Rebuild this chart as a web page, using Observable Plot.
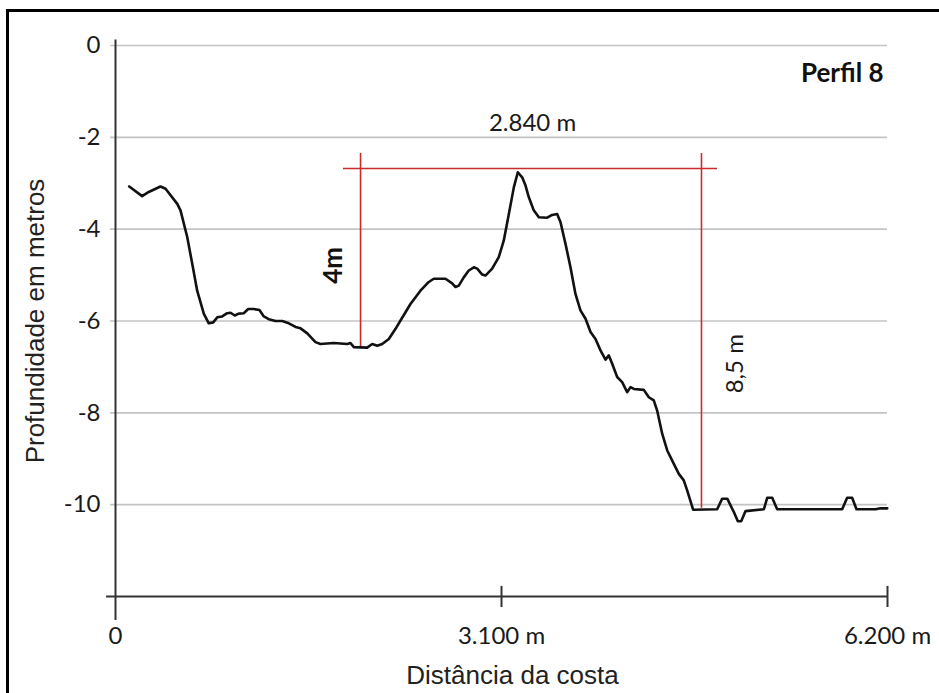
<!DOCTYPE html>
<html>
<head>
<meta charset="utf-8">
<script src="https://cdn.jsdelivr.net/npm/d3@7"></script>
<script src="https://cdn.jsdelivr.net/npm/@observablehq/plot@0.6"></script>
<style>
  html, body { margin: 0; padding: 0; background: #fff; }
  #wrap { position: relative; width: 939px; height: 693px; overflow: hidden; background: #fff; }
  #wrap svg { position: absolute; left: 0; top: 0; }
  #frame { position: absolute; left: 6px; top: 9px; width: 960px; height: 720px;
           border-left: 3px solid #000; border-top: 3px solid #000; pointer-events: none; }
</style>
</head>
<body>
<div id="wrap"><div id="frame"></div></div>
<script>
// Profile 8: distance from coast (m) and depth (m)
const distance = [110, 214, 267, 361, 402, 496, 522, 576, 616, 656,
  709, 749, 785, 817, 857, 897, 924, 958, 990, 1030,
  1066, 1111, 1156, 1191, 1231, 1285, 1339, 1392, 1446, 1486,
  1540, 1606, 1646, 1753, 1861, 1887, 1914, 2021, 2062, 2102,
  2142, 2195, 2249, 2289, 2369, 2449, 2516, 2556, 2650, 2704,
  2731, 2757, 2797, 2837, 2878, 2905, 2945, 2971, 3025, 3078,
  3118, 3159, 3199, 3231, 3266, 3293, 3319, 3359, 3400, 3467,
  3507, 3547, 3574, 3614, 3654, 3694, 3734, 3775, 3815, 3855,
  3895, 3935, 3962, 3989, 4029, 4069, 4109, 4136, 4163, 4243,
  4283, 4323, 4350, 4391, 4431, 4484, 4524, 4564, 4591, 4639,
  4832, 4872, 4913, 4966, 4998, 5025, 5060, 5207, 5234, 5274,
  5314, 5836, 5876, 5916, 5951, 6104, 6144, 6198];
const depth = [-3.07, -3.28, -3.19, -3.07, -3.12, -3.45, -3.59, -4.17, -4.75, -5.34,
  -5.84, -6.05, -6.03, -5.92, -5.90, -5.83, -5.82, -5.88, -5.84, -5.83,
  -5.74, -5.74, -5.76, -5.90, -5.96, -6.00, -6.00, -6.05, -6.13, -6.16,
  -6.27, -6.46, -6.50, -6.48, -6.50, -6.48, -6.57, -6.58, -6.50, -6.54,
  -6.50, -6.39, -6.17, -5.99, -5.63, -5.34, -5.15, -5.08, -5.08, -5.18,
  -5.26, -5.23, -5.05, -4.90, -4.83, -4.86, -4.99, -5.01, -4.86, -4.61,
  -4.25, -3.67, -3.09, -2.76, -2.87, -3.05, -3.30, -3.59, -3.74, -3.75,
  -3.69, -3.67, -3.85, -4.32, -4.83, -5.41, -5.77, -5.95, -6.24, -6.39,
  -6.64, -6.84, -6.75, -6.93, -7.22, -7.33, -7.55, -7.44, -7.48, -7.50,
  -7.66, -7.73, -7.95, -8.46, -8.82, -9.11, -9.33, -9.47, -9.69, -10.11,
  -10.10, -9.87, -9.87, -10.16, -10.36, -10.36, -10.14, -10.10, -9.85, -9.85,
  -10.10, -10.10, -9.85, -9.85, -10.10, -10.10, -10.08, -10.08];

// Axis ticks
const yTicks = [0, -2, -4, -6, -8, -10];
const xTicks = [0, 3100, 6200];
const xTickLabels = ["0", "3.100 m", "6.200 m"];

// Red measurement annotations
const spanX = [1831, 4835];     // horizontal red line extent
const spanDepth = -2.68;        // horizontal red line depth
const markerX = [1968, 4706];   // vertical red lines
const markerTop = -2.35;
const markerBottom = [-6.58, -10.08];

const widthLabel = "2.840 m";
const widthLabelPos = [3349, -1.70];
const riseLabel = "4m";
const riseLabelPos = [1751, -4.79];
const dropLabel = "8,5 m";
const dropLabelPos = [4979, -6.93];

const title = "Perfil 8";
const titlePos = [6168, -0.61];

const profile = distance.map((d, i) => ({distance: d, depth: depth[i]}));
const markers = markerX.map((x, i) => ({x, y1: markerTop, y2: markerBottom[i]}));
const xLabelMap = new Map(xTicks.map((d, i) => [d, xTickLabels[i]]));

const red = "#cc2b2b";
const axisColor = "#333";

const chart = Plot.plot({
  width: 939,
  height: 693,
  marginLeft: 115,
  marginRight: 52,
  marginTop: 45,
  marginBottom: 97,
  x: {domain: [0, 6200]},
  y: {domain: [-12, 0]},
  style: {background: "transparent", fontFamily: "Lato", color: "#1a1a1a"},
  marks: [
    Plot.ruleY(yTicks, {x1: -40, x2: 6200, stroke: "#c4c4c4", strokeWidth: 1.6}),
    Plot.ruleX([0], {y1: 0.12, y2: -12.52, stroke: axisColor, strokeWidth: 2}),
    Plot.ruleY([-12], {x1: -72, x2: 6200, stroke: axisColor, strokeWidth: 2}),
    Plot.ruleX(xTicks.slice(1), {y1: -11.78, y2: -12.24, stroke: axisColor, strokeWidth: 2}),
    Plot.axisY({ticks: yTicks, tickSize: 0, tickPadding: 15, tickFormat: d => String(d),
      fontSize: 24, fontFamily: "Lato", label: null}),
    Plot.axisX({ticks: xTicks, tickSize: 0, tickPadding: 30, tickFormat: d => xLabelMap.get(d),
      fontSize: 24, fontFamily: "Lato", label: null}),
    Plot.text(["Profundidade em metros"], {frameAnchor: "left", dx: -80, rotate: -90,
      textAnchor: "middle", lineAnchor: "middle",
      fontSize: 26, fontFamily: "Liberation Sans", fill: "#222"}),
    Plot.text(["Distância da costa"], {frameAnchor: "bottom", dx: 11, dy: 79,
      textAnchor: "middle", lineAnchor: "middle",
      fontSize: 26, fontFamily: "Liberation Sans", fill: "#222"}),
    Plot.ruleY([spanDepth], {x1: spanX[0], x2: spanX[1], stroke: red, strokeWidth: 1.6}),
    Plot.ruleX(markers, {x: "x", y1: "y1", y2: "y2", stroke: red, strokeWidth: 1.6}),
    Plot.line(profile, {x: "distance", y: "depth", stroke: "#111", strokeWidth: 2.6,
      strokeLinejoin: "round", strokeLinecap: "round"}),
    Plot.text([widthLabel], {x: widthLabelPos[0], y: widthLabelPos[1],
      fontSize: 24, fontFamily: "Lato", fill: "#1a1a1a"}),
    Plot.text([riseLabel], {x: riseLabelPos[0], y: riseLabelPos[1], rotate: -90,
      fontWeight: "bold", fontSize: 26, fontFamily: "Lato", fill: "#111"}),
    Plot.text([dropLabel], {x: dropLabelPos[0], y: dropLabelPos[1], rotate: -90,
      fontSize: 24, fontFamily: "Lato", fill: "#1a1a1a"}),
    Plot.text([title], {x: titlePos[0], y: titlePos[1], textAnchor: "end", fontWeight: "bold",
      fontSize: 26, fontFamily: "Lato", fill: "#111"})
  ]
});
document.getElementById("wrap").prepend(chart);
</script>
</body>
</html>
